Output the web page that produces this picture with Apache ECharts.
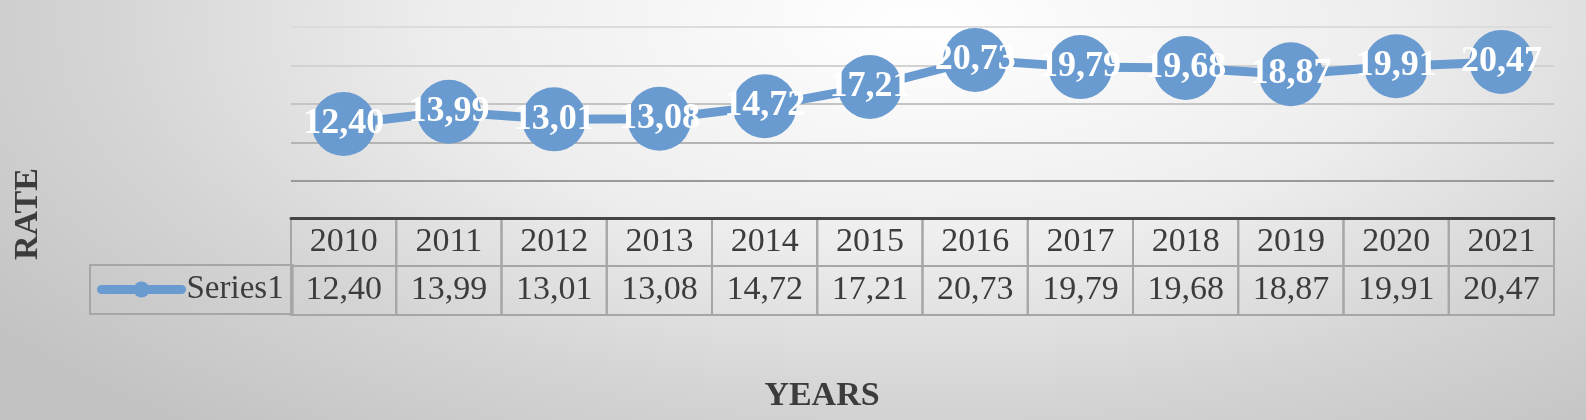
<!DOCTYPE html>
<html>
<head>
<meta charset="utf-8">
<script src="https://cdn.jsdelivr.net/npm/echarts/dist/echarts.min.js"></script>
<style>
  html, body { margin: 0; padding: 0; }
  #chart {
    width: 1586px;
    height: 420px;
    background: radial-gradient(ellipse 72% 125% at 58% 6%, #ffffff 0%, #ededed 42%, #d4d4d4 72%, #c2c2c2 100%);
  }
</style>
</head>
<body>
<div id="chart"></div>
<script>
// data
var years = ["2010", "2011", "2012", "2013", "2014", "2015", "2016", "2017", "2018", "2019", "2020", "2021"];
var rates = [12.40, 13.99, 13.01, 13.08, 14.72, 17.21, 20.73, 19.79, 19.68, 18.87, 19.91, 20.47];
var seriesName = "Series1";

var serif = "Liberation Serif";
var blue = "#6a9bd0";
var textGrey = "#3c3c3c";
var cellBorder = "#a6a6a6";
var colWidth = (1586 - 291 - 32) / years.length;

function comma(v) {
  return v.toFixed(2).replace(".", ",");
}

var chart = echarts.init(document.getElementById("chart"));

chart.setOption({
  animation: false,
  backgroundColor: "transparent",
  grid: {
    left: 291,
    right: 32,
    top: 27,
    bottom: 239,
    outerBoundsMode: "none"
  },
  legend: {
    left: 90,
    top: 265,
    padding: [8, 9, 8, 7],
    itemWidth: 80,
    itemHeight: 20,
    itemGap: 0,
    borderColor: cellBorder,
    borderWidth: 2,
    borderRadius: 0,
    lineStyle: { width: 9, cap: "round" },
    textStyle: {
      fontFamily: serif,
      fontSize: 33,
      lineHeight: 33,
      color: textGrey
    },
    data: [seriesName]
  },
  xAxis: [
    {
      // header row with the years
      type: "category",
      position: "bottom",
      data: years,
      axisLine: { show: false },
      axisTick: { show: false },
      axisLabel: {
        interval: 0,
        margin: 38,
        width: colWidth,
        height: 47,
        lineHeight: 47,
        padding: 0,
        align: "center",
        borderColor: cellBorder,
        borderWidth: 2,
        fontFamily: serif,
        fontSize: 34,
        color: textGrey
      }
    },
    {
      // dark line on top of the table
      type: "category",
      position: "bottom",
      data: years,
      offset: 37,
      z: 5,
      axisLine: { show: true, lineStyle: { color: "#454545", width: 3 } },
      axisTick: { show: false },
      axisLabel: { show: false }
    },
    {
      // data row
      type: "category",
      position: "bottom",
      data: years,
      offset: 85,
      axisLine: { show: false },
      axisTick: { show: false },
      axisLabel: {
        interval: 0,
        margin: 0,
        width: colWidth,
        height: 49,
        lineHeight: 49,
        padding: 0,
        align: "center",
        borderColor: cellBorder,
        borderWidth: 2,
        fontFamily: serif,
        fontSize: 34,
        color: textGrey,
        formatter: function (value, index) {
          return comma(rates[index]);
        }
      }
    }
  ],
  yAxis: {
    type: "value",
    min: 5,
    max: 25,
    interval: 5,
    axisLine: { show: false },
    axisTick: { show: false },
    axisLabel: { show: false },
    splitLine: {
      lineStyle: {
        color: ["#9a9a9a", "#b4b4b4", "#c4c4c4", "#d2d2d2", "#dcdcdc"],
        width: 2
      }
    }
  },
  graphic: [
    {
      type: "text",
      x: 28,
      y: 214,
      rotation: Math.PI / 2,
      style: {
        text: "RATE",
        align: "center",
        verticalAlign: "middle",
        font: "bold 34px 'Liberation Serif'",
        fill: textGrey
      }
    },
    {
      type: "text",
      x: 822,
      y: 396,
      style: {
        text: "YEARS",
        align: "center",
        verticalAlign: "middle",
        font: "bold 34px 'Liberation Serif'",
        fill: textGrey
      }
    }
  ],
  series: [
    {
      name: seriesName,
      type: "line",
      data: rates,
      symbol: "circle",
      symbolSize: 64,
      itemStyle: { color: blue },
      lineStyle: { color: blue, width: 9 },
      label: {
        show: true,
        position: "inside",
        color: "#ffffff",
        fontFamily: serif,
        fontWeight: "bold",
        fontSize: 36,
        formatter: function (p) {
          return comma(p.value);
        }
      }
    }
  ]
});
</script>
</body>
</html>
